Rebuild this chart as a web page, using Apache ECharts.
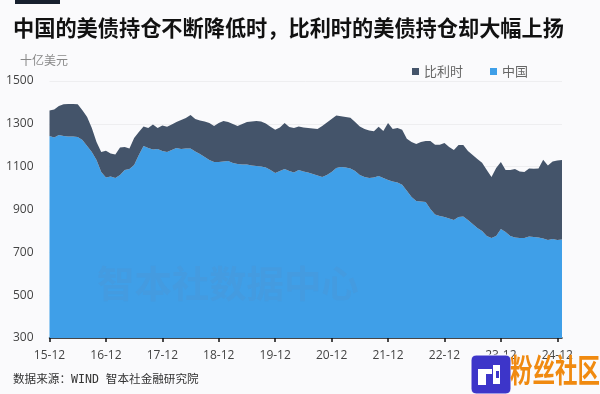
<!DOCTYPE html>
<html>
<head>
<meta charset="utf-8">
<style>
  html, body { margin: 0; padding: 0; background: #fafafc; }
  #chart { width: 600px; height: 394px; }
</style>
<script src="https://cdn.jsdelivr.net/npm/echarts@6/dist/echarts.min.js"></script>
</head>
<body>
<div id="chart"></div>
<script>
// 月度持仓，十亿美元，2015-12 起
const china = [
  1243,1236,1248,1243,1241,1241,1239,1225,1197,1169,1131,1075,
  1050,1054,1047,1061,1085,1089,1108,1155,1197,1187,1180,1183,
  1173,1169,1178,1187,1183,1185,1185,1171,1159,1145,1131,1122,
  1122,1124,1127,1117,1113,1110,1110,1106,1103,1101,1096,1085,
  1071,1080,1089,1080,1073,1085,1078,1073,1066,1059,1052,1061,
  1075,1094,1099,1096,1092,1080,1061,1052,1047,1050,1057,1047,
  1038,1031,1026,1015,987,958,940,937,935,902,877,870,
  865,858,851,865,867,851,832,814,800,776,767,776,
  809,795,776,769,767,767,774,772,769,765,758,762,
  758,760
];
const belgium = [
  119,131,135,149,152,152,152,138,135,112,84,93,
  124,107,110,128,107,96,126,107,91,93,117,98,
  119,117,119,121,135,142,156,152,156,166,173,168,
  182,189,182,182,177,189,198,205,210,210,205,201,
  201,203,215,205,208,203,205,208,212,217,238,245,
  248,245,236,236,236,229,226,224,222,215,229,219,
  266,245,255,257,243,257,266,278,285,318,325,332,
  346,334,327,336,334,322,322,322,318,308,285,318,
  313,290,308,320,311,308,318,318,322,367,348,362,
  371,371
];
const startYear = 15;
const months = china.map((v, i) => {
  const m = (11 + i) % 12 + 1;
  const y = startYear + Math.floor((11 + i) / 12);
  return y + '-' + String(m).padStart(2, '0');
});

const cjk = '"Noto Sans CJK SC", sans-serif';
const latin = '"Open Sans", "Noto Sans CJK SC", sans-serif';

const chartInstance = echarts.init(document.getElementById('chart'));
const option = {
  backgroundColor: '#fafafc',
  animation: false,
  color: ['#3F9FE8', '#44546A'],
  legend: {
    left: 412,
    top: 65,
    icon: 'rect',
    itemWidth: 7,
    itemHeight: 7,
    itemGap: 27,
    padding: 0,
    textStyle: { color: '#666', fontSize: 13, fontFamily: cjk, padding: [0, 0, 0, 0] },
    data: ['比利时', '中国'],
  },
  grid: { left: 49.5, right: 38, top: 81, bottom: 56, outerBoundsMode: 'none' },
  xAxis: {
    type: 'category',
    boundaryGap: false,
    data: months,
    axisLine: { lineStyle: { color: '#111', width: 1.5 } },
    axisTick: { interval: 11, length: 4, lineStyle: { color: '#111', width: 1.5 } },
    axisLabel: {
      interval: 11,
      color: '#444',
      fontSize: 12,
      fontFamily: latin,
      margin: 12,
      hideOverlap: false,
    },
  },
  yAxis: {
    type: 'value',
    min: 300,
    max: 1500,
    interval: 200,
    axisLine: { show: false },
    axisTick: { show: false },
    axisLabel: {
      color: '#444',
      fontSize: 12,
      fontFamily: latin,
      margin: 16,
      formatter: (v) => String(v),
    },
    splitLine: { lineStyle: { color: '#eeeef0', width: 1 } },
  },
  series: [
    {
      name: '中国',
      type: 'line',
      stack: 'total',
      data: china,
      symbol: 'none',
      lineStyle: { width: 0 },
      areaStyle: { opacity: 1 },
    },
    {
      name: '比利时',
      type: 'line',
      stack: 'total',
      data: belgium,
      symbol: 'none',
      lineStyle: { width: 0 },
      areaStyle: { opacity: 1 },
    },
  ],
  graphic: [
    { type: 'rect', shape: { x: 15, y: 0, width: 45, height: 4 }, style: { fill: '#17202e' } },
    {
      type: 'text', left: 13, top: 17,
      style: { text: '中国的美债持仓不断降低时，比利时的美债持仓却大幅上扬', fill: '#111', font: 'bold 21.2px ' + cjk },
    },
    {
      type: 'text', left: 20, top: 54,
      style: { text: '十亿美元', fill: '#888', font: '12px ' + cjk },
    },
    {
      type: 'text', left: 97, top: 265, z: 10,
      style: { text: '智本社数据中心', fill: 'rgba(110,135,170,0.13)', font: 'bold 37.4px ' + cjk },
    },
    {
      type: 'text', left: 13, top: 374,
      style: { text: '数据来源：WIND 智本社金融研究院', fill: '#333', font: '11.6px "DejaVu Sans Mono", ' + cjk },
    },
    // 右下角水印
    { type: 'rect', z: 20, shape: { x: 471, y: 355, width: 40, height: 39, r: 5 }, style: { fill: '#3d35c9', stroke: '#fff', lineWidth: 1 } },
    { type: 'rect', z: 21, shape: { x: 478, y: 369, width: 8, height: 16 }, style: { fill: '#fff' } },
    { type: 'rect', z: 21, shape: { x: 486, y: 369, width: 6, height: 5 }, style: { fill: '#fff' } },
    { type: 'rect', z: 21, shape: { x: 493, y: 365, width: 7, height: 19 }, style: { fill: '#fff' } },
    { type: 'rect', z: 22, shape: { x: 496, y: 371, width: 3, height: 7 }, style: { fill: '#3d35c9' } },
    {
      type: 'text', x: 510, y: 354, scaleY: 1.4, z: 20,
      style: { text: '粉丝社区', fill: '#f08a10', font: 'bold 22.5px ' + cjk },
    },
  ],
};
chartInstance.setOption(option);
</script>
</body>
</html>
